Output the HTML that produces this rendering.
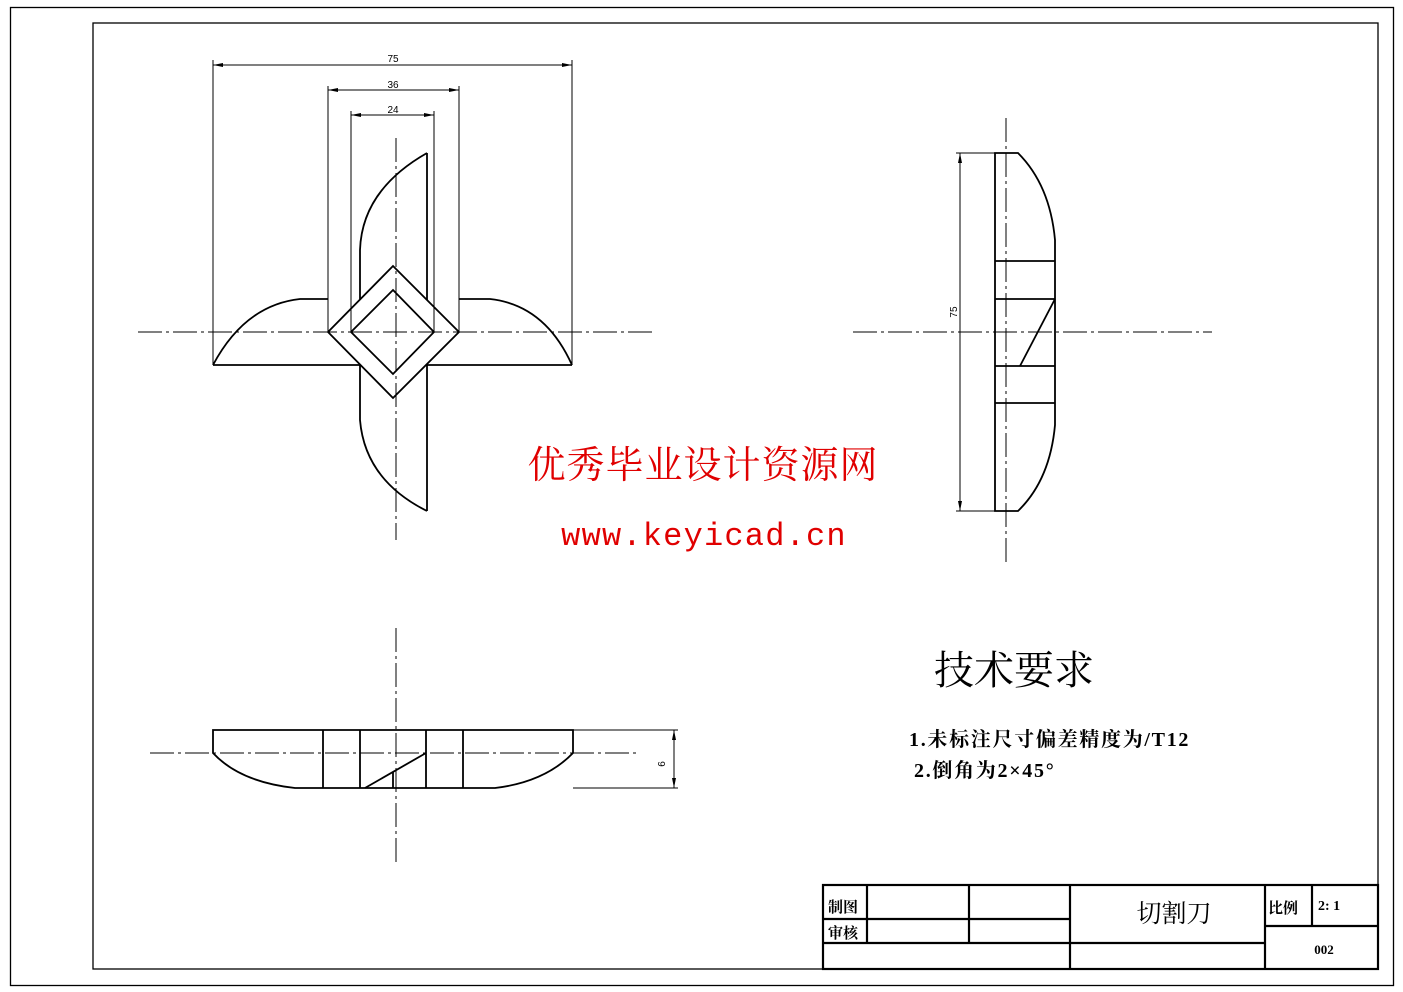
<!DOCTYPE html>
<html><head><meta charset="utf-8"><style>html,body{margin:0;padding:0;background:#fff}svg{display:block}</style></head>
<body>
<svg width="1403" height="992" viewBox="0 0 1403 992" xmlns="http://www.w3.org/2000/svg">
<rect width="1403" height="992" fill="#fff"/>
<g fill="none" stroke="#000">
<rect x="10.5" y="7.5" width="1383" height="978" stroke-width="1.3"/>
<rect x="93" y="23" width="1285" height="946" stroke-width="1.3"/>
<g stroke-width="1" stroke-dasharray="24,4,3,4">
<line x1="138" y1="332" x2="655" y2="332"/>
<line x1="396" y1="138" x2="396" y2="540"/>
<line x1="853" y1="332" x2="1212" y2="332"/>
<line x1="1006" y1="118" x2="1006" y2="565"/>
<line x1="150" y1="753" x2="640" y2="753"/>
<line x1="396" y1="628" x2="396" y2="865"/>
</g>
<g stroke-width="1">
<line x1="213" y1="65" x2="572" y2="65"/><line x1="213" y1="60" x2="213" y2="365"/><line x1="572" y1="60" x2="572" y2="365"/>
<line x1="328" y1="90" x2="459" y2="90"/><line x1="328" y1="86" x2="328" y2="332"/><line x1="459" y1="86" x2="459" y2="332"/>
<line x1="351" y1="115" x2="434" y2="115"/><line x1="351" y1="111" x2="351" y2="332"/><line x1="434" y1="111" x2="434" y2="332"/>
<line x1="960" y1="153" x2="960" y2="511"/><line x1="956" y1="153" x2="995" y2="153"/><line x1="956" y1="511" x2="995" y2="511"/>
<line x1="674" y1="730" x2="674" y2="788"/><line x1="573" y1="730" x2="678" y2="730"/><line x1="573" y1="788" x2="678" y2="788"/>
</g>
<g fill="#000" stroke="none">
<path d="M213 65l10-2v4z"/><path d="M572 65l-10-2v4z"/>
<path d="M328 90l10-2v4z"/><path d="M459 90l-10-2v4z"/>
<path d="M351 115l10-2v4z"/><path d="M434 115l-10-2v4z"/>
<path d="M960 153l-2 10h4z"/><path d="M960 511l-2-10h4z"/>
<path d="M674 730l-2 10h4z"/><path d="M674 788l-2-10h4z"/>
</g>
<g stroke-width="1.8">
<path d="M213 365 Q245 305 300 299 L328 299"/><path d="M459 299 L490 299 Q545 305 572 365"/>
<line x1="213" y1="365" x2="360" y2="365"/><line x1="427" y1="365" x2="572" y2="365"/>
<path d="M427 153 Q362 190 360 250 L360 300"/>
<line x1="427" y1="153" x2="427" y2="300"/>
<path d="M360 365 L360 420 Q365 480 427 511"/>
<line x1="427" y1="365" x2="427" y2="511"/>
<path d="M393 266 L459 332 L393 398 L328 332 Z"/>
<path d="M393 290 L434 332 L393 374 L351 332 Z"/>
</g>
<g stroke-width="1.8">
<path d="M995 153 L1018 153 Q1050 185 1055 240 L1055 425 Q1050 480 1018 511 L995 511 Z"/>
<line x1="995" y1="261" x2="1055" y2="261"/><line x1="995" y1="299" x2="1055" y2="299"/>
<line x1="995" y1="366" x2="1055" y2="366"/><line x1="995" y1="403" x2="1055" y2="403"/>
<line x1="1055" y1="299" x2="1020" y2="366"/>
</g>
<g stroke-width="1.8">
<path d="M213 730 L573 730 L573 753 Q545 782 495 788 L295 788 Q240 782 213 753 Z"/>
<line x1="323" y1="730" x2="323" y2="788"/><line x1="360" y1="730" x2="360" y2="788"/>
<line x1="426" y1="730" x2="426" y2="788"/><line x1="463" y1="730" x2="463" y2="788"/>
<line x1="365" y1="788" x2="426" y2="753"/><line x1="393" y1="772" x2="393" y2="788"/>
</g>
<g stroke-width="2.2">
<rect x="823" y="885" width="555" height="84"/>
<line x1="867" y1="885" x2="867" y2="943"/><line x1="969" y1="885" x2="969" y2="943"/>
<line x1="1070" y1="885" x2="1070" y2="969"/><line x1="1265" y1="885" x2="1265" y2="969"/>
<line x1="1312" y1="885" x2="1312" y2="926"/>
<line x1="823" y1="919" x2="1070" y2="919"/><line x1="823" y1="943" x2="1265" y2="943"/>
<line x1="1265" y1="926" x2="1378" y2="926"/>
</g>
</g>
<g font-family="'Liberation Sans', sans-serif" font-size="10" fill="#000">
<text x="393" y="62" text-anchor="middle">75</text>
<text x="393" y="88" text-anchor="middle">36</text>
<text x="393" y="113" text-anchor="middle">24</text>
<text transform="translate(957,312) rotate(-90)" text-anchor="middle">75</text>
<text transform="translate(665,764) rotate(-90)" text-anchor="middle">6</text>
</g>
<g font-family="'Liberation Serif', 'Noto Serif CJK SC', serif" fill="#e00000">
<text x="703" y="478" text-anchor="middle" font-size="38" letter-spacing="1">优秀毕业设计资源网</text>
<text x="704" y="545" text-anchor="middle" font-size="32" letter-spacing="1.2" font-family="'Liberation Mono', monospace">www.keyicad.cn</text>
</g>
<g font-family="'Liberation Serif', 'Noto Serif CJK SC', serif" fill="#000">
<text x="934" y="684" font-size="40">技术要求</text>
<text x="909" y="746" font-size="20" font-weight="bold" letter-spacing="1.7">1.未标注尺寸偏差精度为/T12</text>
<text x="914" y="777" font-size="20" font-weight="bold" letter-spacing="1.7">2.倒角为2×45°</text>
<text x="828" y="912" font-size="15" font-weight="bold">制图</text>
<text x="828" y="938" font-size="15" font-weight="bold">审核</text>
<text x="1174" y="922" font-size="25" text-anchor="middle">切割刀</text>
<text x="1268" y="913" font-size="15" font-weight="bold">比例</text>
<text x="1318" y="910" font-size="14" font-weight="bold">2: 1</text>
<text x="1324" y="954" font-size="13" font-weight="bold" text-anchor="middle">002</text>
</g>
</svg>
</body></html>
